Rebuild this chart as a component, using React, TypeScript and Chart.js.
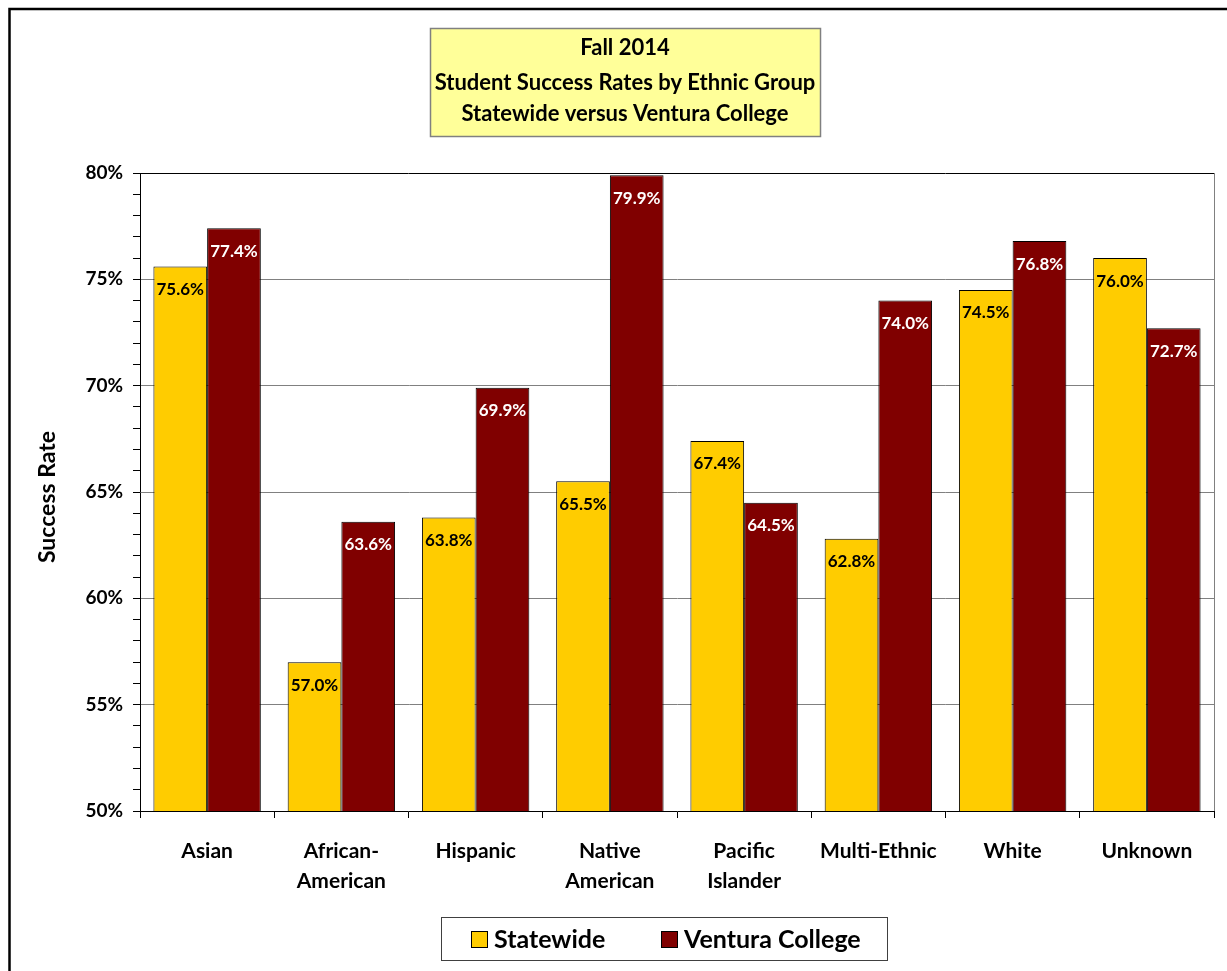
import React, { useEffect, useRef } from "react";
import { Chart, registerables } from "chart.js";

Chart.register(...registerables);

const categories: (string | string[])[] = [
  "Asian",
  ["African-", "American"],
  "Hispanic",
  ["Native", "American"],
  ["Pacific", "Islander"],
  "Multi-Ethnic",
  "White",
  "Unknown",
];
const statewide = [75.6, 57.0, 63.8, 65.5, 67.4, 62.8, 74.5, 76.0];
const ventura = [77.4, 63.6, 69.9, 79.9, 64.5, 74.0, 76.8, 72.7];
const titleLines = ["Fall 2014", "Student Success Rates by Ethnic Group", "Statewide versus Ventura College"];
const seriesNames = ["Statewide", "Ventura College"];
const yTitle = "Success Rate";

const FONT = "Lato, 'Open Sans', sans-serif";
const YELLOW = "#FFCC00";
const RED = "#800000";

const decorPlugin = {
  id: "decor",
  beforeDraw(chart: any) {
    const ctx = chart.ctx;
    ctx.save();
    ctx.fillStyle = "#fff";
    ctx.fillRect(0, 0, chart.width, chart.height);
    ctx.strokeStyle = "#000";
    ctx.lineWidth = 2.5;
    ctx.strokeRect(9.5, 9, chart.width + 20, chart.height + 20);
    ctx.restore();
  },
  afterDatasetsDraw(chart: any) {
    const ctx = chart.ctx;
    const { chartArea } = chart;
    ctx.save();
    ctx.strokeStyle = "#808080";
    ctx.lineWidth = 1;
    ctx.beginPath();
    ctx.moveTo(chartArea.right + 0.5, chartArea.top);
    ctx.lineTo(chartArea.right + 0.5, chartArea.bottom);
    ctx.stroke();
    ctx.strokeStyle = "#000";
    ctx.beginPath();
    ctx.moveTo(chartArea.left, chartArea.top + 0.5);
    ctx.lineTo(chartArea.right, chartArea.top + 0.5);
    ctx.stroke();

    ctx.font = `bold 17px ${FONT}`;
    ctx.textAlign = "center";
    ctx.textBaseline = "middle";
    chart.data.datasets.forEach((ds: any, di: number) => {
      const meta = chart.getDatasetMeta(di);
      meta.data.forEach((bar: any, i: number) => {
        ctx.fillStyle = di === 0 ? "#000" : "#fff";
        ctx.fillText(Number(ds.data[i]).toFixed(1) + "%", bar.x, bar.y + 23);
      });
    });

    ctx.save();
    ctx.translate(48, (chartArea.top + chartArea.bottom) / 2 + 5);
    ctx.rotate(-Math.PI / 2);
    ctx.fillStyle = "#000";
    ctx.font = `bold 23px ${FONT}`;
    ctx.fillText(yTitle, 0, 0);
    ctx.restore();

    const tx = 430, ty = 28, tw = 390, th = 108;
    ctx.fillStyle = "#FFFF99";
    ctx.fillRect(tx, ty, tw, th);
    ctx.strokeStyle = "#808080";
    ctx.lineWidth = 1.5;
    ctx.strokeRect(tx + 0.5, ty + 0.5, tw, th);
    ctx.fillStyle = "#000";
    ctx.font = `bold 22px ${FONT}`;
    const ys = [48, 83, 114];
    titleLines.forEach((t, i) => ctx.fillText(t, tx + tw / 2, ys[i]));

    const lx = 441, ly = 917, lw = 446, lh = 43;
    ctx.fillStyle = "#fff";
    ctx.fillRect(lx, ly, lw, lh);
    ctx.strokeStyle = "#404040";
    ctx.lineWidth = 1;
    ctx.strokeRect(lx + 0.5, ly + 0.5, lw, lh);
    ctx.font = `bold 25px ${FONT}`;
    ctx.textAlign = "left";
    const items = [
      { x: 471, color: YELLOW },
      { x: 661, color: RED },
    ];
    items.forEach((it, i) => {
      ctx.fillStyle = it.color;
      ctx.fillRect(it.x, 931, 16, 16);
      ctx.strokeStyle = "#000";
      ctx.strokeRect(it.x + 0.5, 931.5, 16, 16);
      ctx.fillStyle = "#000";
      ctx.fillText(chart.data.datasets[i].label, it.x + 23, 940);
    });
    ctx.restore();
  },
};

export default function App() {
  const ref = useRef<HTMLCanvasElement>(null);
  useEffect(() => {
    document.body.style.margin = "0";
    const chart = new Chart(ref.current!, {
      type: "bar",
      data: {
        labels: categories,
        datasets: [
          { label: seriesNames[0], data: statewide, backgroundColor: YELLOW, borderColor: "#000", borderWidth: 1 },
          { label: seriesNames[1], data: ventura, backgroundColor: RED, borderColor: "#000", borderWidth: 1 },
        ],
      },
      options: {
        animation: false,
        responsive: false,
        devicePixelRatio: 1,
        layout: { padding: { left: 0, top: 173, right: 13, bottom: 0 } },
        plugins: { legend: { display: false }, tooltip: { enabled: false }, title: { display: false } },
        datasets: { bar: { categoryPercentage: 0.8, barPercentage: 1 } },
        scales: {
          x: {
            afterFit: (s: any) => { s.height = 160; },
            grid: { display: true, drawOnChartArea: false, drawTicks: true, tickLength: 7, tickColor: "#000", offset: true },
            border: { color: "#000", width: 1 },
            ticks: { color: "#000", font: { family: FONT, size: 21, weight: "bold", lineHeight: 1.45 }, padding: 18, maxRotation: 0, autoSkip: false },
          },
          y: {
            min: 50,
            max: 80,
            afterFit: (s: any) => { s.width = 140; },
            grid: {
              color: (c: any) => (c.tick && c.tick.value % 5 === 0 && c.tick.value !== 50 && c.tick.value !== 80 ? "#808080" : "rgba(0,0,0,0)"),
              drawTicks: true,
              tickLength: 7,
              tickColor: "#000",
            },
            border: { color: "#000", width: 1 },
            ticks: {
              stepSize: 1,
              autoSkip: false,
              color: "#000",
              padding: 10,
              font: { family: FONT, size: 19, weight: "bold" },
              callback: (v: any) => (Number(v) % 5 === 0 ? v + "%" : ""),
            },
          },
        },
      },
      plugins: [decorPlugin],
    });
    return () => chart.destroy();
  }, []);
  return <canvas ref={ref} width={1227} height={971} style={{ display: "block" }} />;
}
